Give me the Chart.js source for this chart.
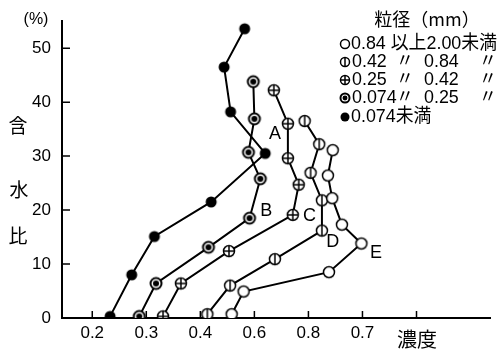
<!DOCTYPE html>
<html>
<head>
<meta charset="utf-8">
<script src="https://cdn.jsdelivr.net/npm/chart.js@4/dist/chart.umd.min.js"></script>
<style>
  body { margin: 0; background: #fff; }
  #c { display: block; }
</style>
</head>
<body>
<canvas id="c" width="498" height="353"></canvas>
<script>
// concentration (x) and water content % (y), bottom to top
const concE = [0.458, 0.480, 0.638, 0.698, 0.662, 0.644, 0.636, 0.645];
const waterE = [0.7, 4.9, 8.5, 13.8, 17.3, 22.2, 26.4, 31.1];
const concD = [0.413, 0.455, 0.538, 0.625, 0.625, 0.604, 0.620, 0.593];
const waterD = [0.7, 6.0, 10.9, 16.2, 21.8, 26.9, 32.2, 36.5];
const concC = [0.331, 0.364, 0.453, 0.571, 0.582, 0.562, 0.562, 0.536];
const waterC = [0.3, 6.4, 12.4, 19.1, 24.7, 29.6, 36.0, 42.2];
const concB = [0.287, 0.318, 0.415, 0.491, 0.511, 0.489, 0.500, 0.498];
const waterB = [0.3, 6.4, 13.1, 18.5, 25.8, 30.7, 36.9, 43.8];
const concA = [0.233, 0.273, 0.315, 0.420, 0.520, 0.456, 0.444, 0.482];
const waterA = [0.3, 8.0, 15.1, 21.5, 30.5, 38.2, 46.5, 53.6];

const seriesNames = ['0.84 以上2.00未満', '0.42 〃 0.84 〃', '0.25 〃 0.42 〃', '0.074 〃 0.25 〃', '0.074未満'];
const curveLabels = ['A', 'B', 'C', 'D', 'E'];
const curveLabelX = [0.538, 0.522, 0.602, 0.645, 0.725];
const curveLabelY = [34.0, 19.8, 18.9, 14.0, 12.0];

const xTickValues = [0.2, 0.3, 0.4, 0.5, 0.6, 0.7, 0.8];
const xTickLabels = ['0.2', '0.3', '0.4', '0.6', '0.8', '0.7', ''];
const yTickValues = [0, 10, 20, 30, 40, 50];

const LATIN = '"Liberation Sans", Arial, sans-serif';
const CJK = '"Noto Sans CJK JP", "Noto Sans", sans-serif';

function makeMarker(kind, r) {
    const s = Math.ceil(r * 2 + 5);
    const cv = document.createElement('canvas');
    cv.width = s; cv.height = s;
    const g = cv.getContext('2d');
    const c = s / 2;
    g.strokeStyle = '#000';
    g.fillStyle = '#000';
    g.lineWidth = 1.5;
    g.beginPath();
    g.arc(c, c, r, 0, Math.PI * 2);
    if (kind === 'filled') { g.fill(); return cv; }
    g.fillStyle = '#fff';
    g.fill();
    if (kind === 'dot') g.lineWidth = 2;
    g.stroke();
    g.beginPath();
    if (kind === 'vline' || kind === 'cross') {
        g.moveTo(c, c - r); g.lineTo(c, c + r);
    }
    if (kind === 'cross') {
        g.moveTo(c - r, c); g.lineTo(c + r, c);
    }
    g.stroke();
    if (kind === 'dot') {
        g.fillStyle = '#000';
        g.beginPath();
        g.arc(c, c, r * 0.55, 0, Math.PI * 2);
        g.fill();
    }
    return cv;
}

const kinds = ['open', 'vline', 'cross', 'dot', 'filled'];
const markers = kinds.map(k => makeMarker(k, 5.5));
const legendMarkers = kinds.map(k => makeMarker(k, 4.5));

function pts(xs, ys) { return xs.map((x, i) => ({ x: x, y: ys[i] })); }

const seriesData = [pts(concE, waterE), pts(concD, waterD), pts(concC, waterC), pts(concB, waterB), pts(concA, waterA)];

function narrowText(ctx, t, x, y, sx, align) {
    const w = ctx.measureText(t).width * sx;
    const left = align === 'center' ? x - w / 2 : x;
    ctx.save();
    ctx.textAlign = 'left';
    ctx.translate(left, y);
    ctx.scale(sx, 1);
    ctx.fillText(t, 0, 0);
    ctx.restore();
}

const decorations = {
    id: 'decorations',
    afterDraw(chart) {
        const ctx = chart.ctx;
        const xs = chart.scales.x, ys = chart.scales.y;
        const area = chart.chartArea;
        ctx.save();
        ctx.strokeStyle = '#000';
        ctx.lineWidth = 1.5;
        // inward tick marks
        ctx.beginPath();
        yTickValues.forEach(v => {
            const p = ys.getPixelForValue(v);
            ctx.moveTo(area.left, p); ctx.lineTo(area.left + 8, p);
        });
        xTickValues.forEach(v => {
            const p = xs.getPixelForValue(v);
            ctx.moveTo(p, area.bottom); ctx.lineTo(p, area.bottom - 7);
        });
        ctx.stroke();

        ctx.fillStyle = '#000';
        ctx.textAlign = 'center';
        ctx.textBaseline = 'middle';
        // curve letters
        ctx.font = '18px ' + LATIN;
        curveLabels.forEach((t, i) => {
            ctx.fillText(t, xs.getPixelForValue(curveLabelX[i]), ys.getPixelForValue(curveLabelY[i]));
        });
        // axis titles
        ctx.font = '16px ' + LATIN;
        ctx.fillText('(%)', 36, 20);
        ctx.font = '19px ' + CJK;
        ctx.fillText('含', 18, 126);
        ctx.fillText('水', 19, 190);
        ctx.fillText('比', 18, 236);
        ctx.font = '20px ' + CJK;
        ctx.fillText('濃度', 417, 339);

        // legend
        ctx.font = '18px ' + CJK;
        ctx.fillText('粒径（mm）', 427, 19);
        const rowY = [44, 62, 80, 98, 117];
        ctx.font = '19px ' + LATIN + ', ' + CJK;
        const sx = Math.min(1, 146 / ctx.measureText(seriesNames[0]).width);
        seriesNames.forEach((name, i) => {
            const m = legendMarkers[i];
            ctx.drawImage(m, 345 - m.width / 2, rowY[i] - m.height / 2);
            const parts = name.split(' ');
            if (parts.length === 4) {
                narrowText(ctx, parts[0], 352, rowY[i], sx, 'left');
                narrowText(ctx, parts[1], 405, rowY[i], sx, 'center');
                narrowText(ctx, parts[2], 424, rowY[i], sx, 'left');
                narrowText(ctx, parts[3], 488, rowY[i], sx, 'center');
            } else {
                narrowText(ctx, name, 351, rowY[i], sx, 'left');
            }
        });
        ctx.restore();
    }
};

const whiteBg = {
    id: 'whiteBg',
    beforeDraw(chart) {
        const ctx = chart.ctx;
        ctx.save();
        ctx.fillStyle = '#fff';
        ctx.fillRect(0, 0, chart.width, chart.height);
        ctx.restore();
    }
};

const chart = new Chart(document.getElementById('c'), {
    type: 'scatter',
    data: {
        datasets: seriesData.map((d, i) => ({
            label: seriesNames[i],
            data: d,
            showLine: true,
            borderColor: '#000',
            borderWidth: 2,
            pointStyle: markers[i],
            pointRadius: 6,
            pointHoverRadius: 6
        }))
    },
    options: {
        responsive: false,
        animation: false,
        events: [],
        layout: { padding: { top: 15, right: 0, left: 0, bottom: 0 } },
        plugins: {
            legend: { display: false },
            tooltip: { enabled: false },
            title: { display: false }
        },
        scales: {
            x: {
                type: 'linear',
                min: 0.144,
                max: 0.936,
                afterBuildTicks: s => { s.ticks = xTickValues.map(v => ({ value: v })); },
                afterFit: s => { s.height = 35; },
                grid: { display: false, drawTicks: false },
                border: { color: '#000', width: 2 },
                ticks: {
                    color: '#000',
                    padding: 5,
                    maxRotation: 0,
                    autoSkip: false,
                    font: { family: LATIN, size: 17 },
                    callback: v => xTickLabels[xTickValues.findIndex(t => Math.abs(t - v) < 1e-6)]
                }
            },
            y: {
                type: 'linear',
                min: 0,
                max: 55,
                afterBuildTicks: s => { s.ticks = yTickValues.map(v => ({ value: v })); },
                afterFit: s => { s.width = 62; },
                grid: { display: false, drawTicks: false },
                border: { color: '#000', width: 2 },
                ticks: {
                    color: '#000',
                    padding: 11,
                    font: { family: LATIN, size: 17 },
                    callback: v => String(v)
                }
            }
        }
    },
    plugins: [whiteBg, decorations]
});
</script>
</body>
</html>
